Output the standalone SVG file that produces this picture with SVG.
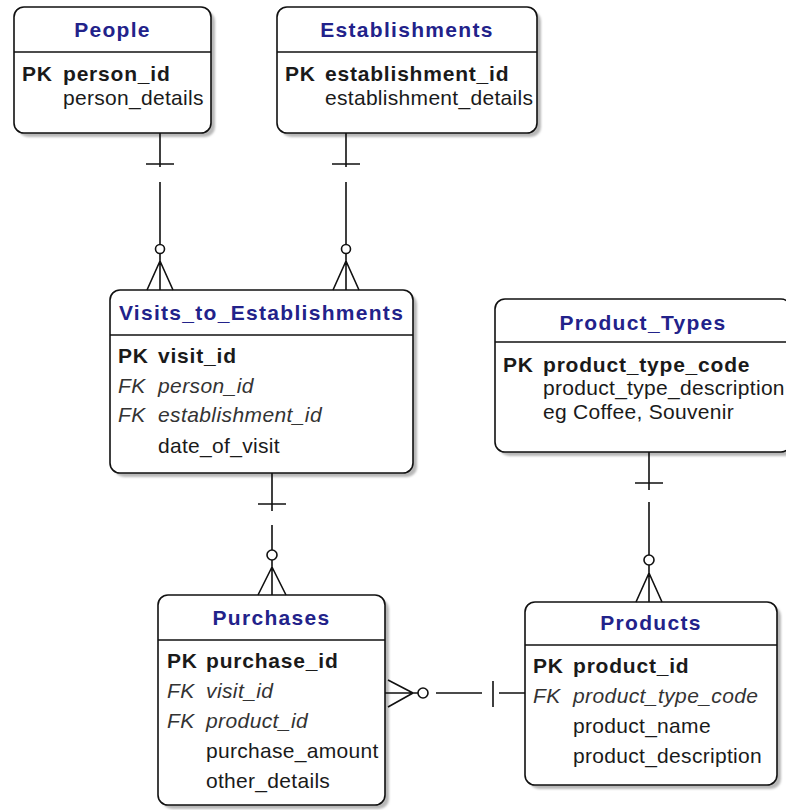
<svg xmlns="http://www.w3.org/2000/svg" width="786" height="810" viewBox="0 0 786 810">
<style>
.box{fill:#fff;stroke:#111;stroke-width:1.6}
.shadow{fill:#b8b8b8;filter:url(#blur)}
.hdr{stroke:#111;stroke-width:1.6}
.title{font-family:"Liberation Sans",Arial,sans-serif;font-size:21px;font-weight:bold;fill:#22228a;text-anchor:middle;letter-spacing:1.3px}
.pk{font-family:"Liberation Sans",Arial,sans-serif;font-size:21px;font-weight:bold;fill:#1a1a1a;letter-spacing:0.8px}
.fk{font-family:"Liberation Sans",Arial,sans-serif;font-size:21px;font-style:italic;fill:#333;letter-spacing:0.4px}
.at{font-family:"Liberation Sans",Arial,sans-serif;font-size:21px;fill:#1a1a1a;letter-spacing:0.3px}
.ln{stroke:#111;stroke-width:1.6;fill:none}
</style>
<defs>
<filter id="blur" x="-10%" y="-10%" width="120%" height="120%"><feGaussianBlur stdDeviation="1.2"/></filter>
</defs>
<rect width="786" height="810" fill="#fff"/>

<g id="people">
<rect class="shadow" x="18" y="11" width="197" height="126" rx="10"/>
<rect class="box" x="14" y="7" width="197" height="126" rx="10"/>
<line class="hdr" x1="14" y1="52" x2="211" y2="52"/>
<text class="title" x="112.5" y="37">People</text>
<text class="pk" x="22" y="81">PK</text><text class="pk" x="63" y="81">person_id</text>
<text class="at" x="63" y="105">person_details</text>
</g>

<g id="establishments">
<rect class="shadow" x="281" y="11" width="260" height="126" rx="10"/>
<rect class="box" x="277" y="7" width="260" height="126" rx="10"/>
<line class="hdr" x1="277" y1="52" x2="537" y2="52"/>
<text class="title" x="407" y="37">Establishments</text>
<text class="pk" x="285" y="81">PK</text><text class="pk" x="325" y="81">establishment_id</text>
<text class="at" x="325" y="105">establishment_details</text>
</g>

<g id="visits">
<rect class="shadow" x="114" y="294" width="303" height="183" rx="10"/>
<rect class="box" x="110" y="290" width="303" height="183" rx="10"/>
<line class="hdr" x1="110" y1="335" x2="413" y2="335"/>
<text class="title" x="261.5" y="320">Visits_to_Establishments</text>
<text class="pk" x="118" y="363">PK</text><text class="pk" x="158" y="363">visit_id</text>
<text class="fk" x="118" y="393">FK</text><text class="fk" x="158" y="393">person_id</text>
<text class="fk" x="118" y="422">FK</text><text class="fk" x="158" y="422">establishment_id</text>
<text class="at" x="158" y="453">date_of_visit</text>
</g>

<g id="product_types">
<rect class="shadow" x="499" y="303" width="296" height="153" rx="10"/>
<rect class="box" x="495" y="299" width="296" height="153" rx="10"/>
<line class="hdr" x1="495" y1="342" x2="791" y2="342"/>
<text class="title" x="643" y="330">Product_Types</text>
<text class="pk" x="503" y="372">PK</text><text class="pk" x="543" y="372">product_type_code</text>
<text class="at" x="543" y="395">product_type_description</text>
<text class="at" x="543" y="419">eg Coffee, Souvenir</text>
</g>

<g id="purchases">
<rect class="shadow" x="162" y="599" width="227" height="210" rx="10"/>
<rect class="box" x="158" y="595" width="227" height="210" rx="10"/>
<line class="hdr" x1="158" y1="640" x2="385" y2="640"/>
<text class="title" x="271.5" y="625">Purchases</text>
<text class="pk" x="167" y="668">PK</text><text class="pk" x="206" y="668">purchase_id</text>
<text class="fk" x="167" y="698">FK</text><text class="fk" x="206" y="698">visit_id</text>
<text class="fk" x="167" y="728">FK</text><text class="fk" x="206" y="728">product_id</text>
<text class="at" x="206" y="758">purchase_amount</text>
<text class="at" x="206" y="788">other_details</text>
</g>

<g id="products">
<rect class="shadow" x="529" y="606" width="252" height="183" rx="10"/>
<rect class="box" x="525" y="602" width="252" height="183" rx="10"/>
<line class="hdr" x1="525" y1="645" x2="777" y2="645"/>
<text class="title" x="651" y="630">Products</text>
<text class="pk" x="533" y="673">PK</text><text class="pk" x="573" y="673">product_id</text>
<text class="fk" x="533" y="703">FK</text><text class="fk" x="573" y="703">product_type_code</text>
<text class="at" x="573" y="733">product_name</text>
<text class="at" x="573" y="763">product_description</text>
</g>

<g id="connectors">
<!-- People to Visits -->
<path class="ln" d="M160 133V167M146 164H174M160 182V244M160 254V290M160 261L147 290M160 261L173 290"/>
<circle class="ln" cx="160" cy="249" r="4.5"/>
<!-- Establishments to Visits -->
<path class="ln" d="M346 133V167M332 164H360M346 182V244M346 254V290M346 261L333 290M346 261L359 290"/>
<circle class="ln" cx="346" cy="249" r="4.5"/>
<!-- Visits to Purchases -->
<path class="ln" d="M272 473V511M258 504H286M272 525V550M272 560V595M272 567L258 595M272 567L286 595"/>
<circle class="ln" cx="272" cy="555" r="5"/>
<!-- Product_Types to Products -->
<path class="ln" d="M649 452V490M635 483H663M649 502V555M649 565V602M649 573L636 602M649 573L662 602"/>
<circle class="ln" cx="649" cy="560" r="5"/>
<!-- Purchases to Products -->
<path class="ln" d="M385 693H418M413 693L388 680M413 693L388 707M436 693H482M493 681V707M499 693H525"/>
<circle class="ln" cx="423" cy="693" r="5"/>
</g>
</svg>
